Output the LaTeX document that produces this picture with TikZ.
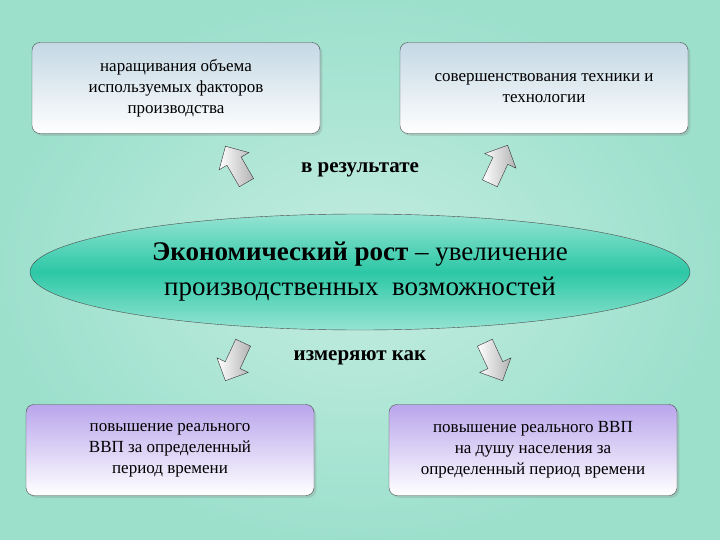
\documentclass[tikz,border=0pt]{standalone}
\usepackage{fontspec}
\setmainfont{Liberation Serif}
\usetikzlibrary{shapes.arrows,shapes.geometric,shadows}
\definecolor{bgc}{HTML}{9CE0CC}
\definecolor{ellc}{HTML}{2CC8A6}
\definecolor{topc}{HTML}{C4D8E4}
\definecolor{botc}{HTML}{B9A6EC}
\begin{document}
\begin{tikzpicture}[x=1pt,y=-1pt,
  tbox/.style={draw=black!70,rounded corners=8pt,minimum width=288pt,minimum height=91pt,top color=topc,bottom color=white,align=center,font=\fontsize{17}{21}\selectfont,drop shadow={opacity=0.25}},
  bbox/.style={tbox,top color=botc},
  barrow/.style={single arrow,draw=black!80,single arrow head extend=9pt,single arrow head indent=0pt,minimum height=42pt,inner sep=8pt,left color=white,right color=black!30},
  lab/.style={font=\fontsize{21}{24}\selectfont\bfseries}]
\useasboundingbox (0,0) rectangle (720,540);
\fill[inner color=white!40!bgc,outer color=bgc] (0,0) rectangle (720,540);
\node[tbox] (tl) at (176,88) {наращивания объема\\используемых факторов\\производства};
\node[tbox] (tr) at (544,88) {совершенствования техники и\\технологии};
\node[bbox] (bl) at (170,450) {повышение реального\\ВВП за определенный\\период времени};
\node[bbox] (br) at (533,450) {повышение реального ВВП\\на душу населения за\\определенный период времени};
\node[ellipse,draw=black!70,minimum width=660pt,minimum height=116pt,top color=white!50!ellc,bottom color=white!50!ellc,middle color=ellc,align=center,font=\fontsize{27}{35}\selectfont] (el) at (360,272) {\textbf{Экономический рост} – увеличение\\производственных\ \ возможностей};
\node[lab] (r) at (360,170) {в результате};
\node[lab] (m) at (360,358) {измеряют как};
\node[barrow,rotate=120] (a1) at (238,168) {};
\node[barrow,rotate=65] (a2) at (497,168) {};
\node[barrow,rotate=-115] (a3) at (236,358) {};
\node[barrow,rotate=-65] (a4) at (492,358) {};
\end{tikzpicture}
\end{document}
